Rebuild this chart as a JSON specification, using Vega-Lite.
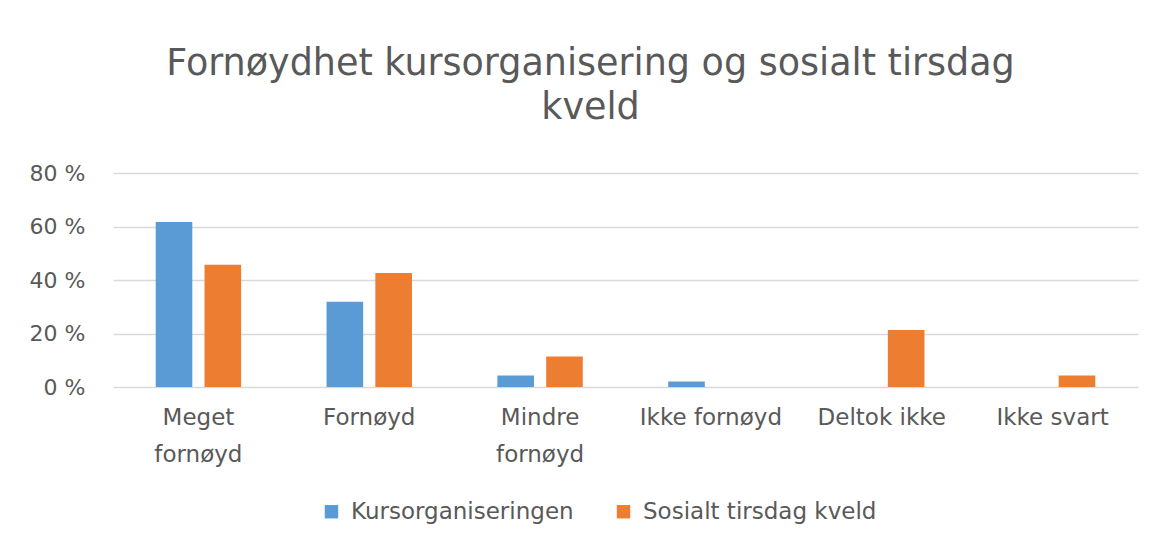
{
  "$schema": "https://vega.github.io/schema/vega-lite/v6.json",
  "width": 1025,
  "height": 214,
  "autosize": {"type": "none"},
  "padding": {"left": 113, "top": 173, "right": 25, "bottom": 163},
  "background": "white",
  "title": {
    "text": ["Fornøydhet kursorganisering og sosialt tirsdag", "kveld"],
    "fontSize": 36.5,
    "font": "DejaVu Sans",
    "fontWeight": "normal",
    "color": "#595959",
    "anchor": "middle",
    "dx": -35,
    "offset": 36,
    "lineHeight": 44
  },
  "data": {
    "values": [
      {"kategori": "Meget fornøyd", "serie": "Kursorganiseringen", "andel": 61.7},
      {"kategori": "Meget fornøyd", "serie": "Sosialt tirsdag kveld", "andel": 45.7},
      {"kategori": "Fornøyd", "serie": "Kursorganiseringen", "andel": 31.9},
      {"kategori": "Fornøyd", "serie": "Sosialt tirsdag kveld", "andel": 42.6},
      {"kategori": "Mindre fornøyd", "serie": "Kursorganiseringen", "andel": 4.3},
      {"kategori": "Mindre fornøyd", "serie": "Sosialt tirsdag kveld", "andel": 11.4},
      {"kategori": "Ikke fornøyd", "serie": "Kursorganiseringen", "andel": 2.1},
      {"kategori": "Ikke fornøyd", "serie": "Sosialt tirsdag kveld", "andel": 0},
      {"kategori": "Deltok ikke", "serie": "Kursorganiseringen", "andel": 0},
      {"kategori": "Deltok ikke", "serie": "Sosialt tirsdag kveld", "andel": 21.3},
      {"kategori": "Ikke svart", "serie": "Kursorganiseringen", "andel": 0},
      {"kategori": "Ikke svart", "serie": "Sosialt tirsdag kveld", "andel": 4.3}
    ]
  },
  "mark": {"type": "bar"},
  "encoding": {
    "x": {
      "field": "kategori",
      "type": "nominal",
      "sort": null,
      "title": null,
      "scale": {"paddingInner": 0.5, "paddingOuter": 0.25},
      "axis": {
        "labelAngle": 0,
        "labelFontSize": 23,
        "labelFont": "DejaVu Sans",
        "labelColor": "#595959",
        "labelPadding": 19,
        "labelLineHeight": 37,
        "labelLimit": 300,
        "ticks": false,
        "domain": false,
        "labelExpr": "datum.label == 'Meget fornøyd' ? ['Meget', 'fornøyd'] : datum.label == 'Mindre fornøyd' ? ['Mindre', 'fornøyd'] : datum.label"
      }
    },
    "xOffset": {
      "field": "serie",
      "type": "nominal",
      "scale": {"paddingInner": 0.25}
    },
    "y": {
      "field": "andel",
      "type": "quantitative",
      "title": null,
      "scale": {"domain": [0, 80]},
      "axis": {
        "values": [0, 20, 40, 60, 80],
        "labelExpr": "datum.value + ' %'",
        "labelFontSize": 22,
        "labelFont": "DejaVu Sans",
        "labelColor": "#595959",
        "labelPadding": 28,
        "ticks": false,
        "domain": false,
        "gridColor": "#D9D9D9",
        "gridWidth": 1.5
      }
    },
    "color": {
      "field": "serie",
      "type": "nominal",
      "scale": {"domain": ["Kursorganiseringen", "Sosialt tirsdag kveld"], "range": ["#5B9BD5", "#ED7D31"]},
      "legend": {
        "title": null,
        "orient": "none",
        "direction": "horizontal",
        "legendX": 207,
        "legendY": 327,
        "symbolType": "square",
        "symbolSize": 180,
        "symbolStrokeWidth": 0,
        "labelFontSize": 23,
        "labelFont": "DejaVu Sans",
        "labelColor": "#595959",
        "labelLimit": 400,
        "columnPadding": 38,
        "labelOffset": 8
      }
    }
  },
  "config": {
    "view": {"stroke": null}
  }
}
